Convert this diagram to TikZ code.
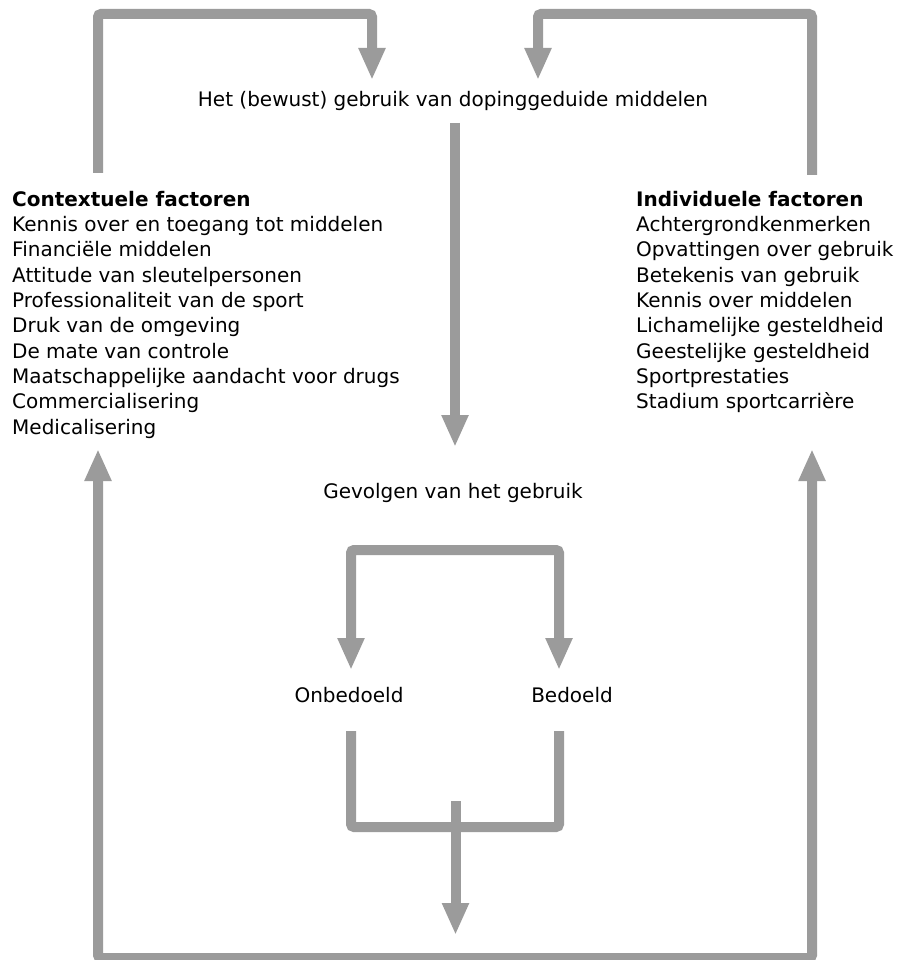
\documentclass[tikz,border=0pt]{standalone}
\usepackage{fontspec}
\setmainfont{DejaVu Sans}
\usetikzlibrary{arrows.meta}
\definecolor{linegray}{RGB}{155,155,155}

\begin{document}
\begin{tikzpicture}[x=1pt,y=-1pt,>={Triangle[width=25pt,length=32pt]},
  conn/.style={draw=linegray,line width=10pt,rounded corners=3pt,fill=none},
  label/.style={inner sep=0pt,font=\fontsize{20}{25.3}\selectfont},
  block/.style={label,align=left,anchor=north west}]
\useasboundingbox (0,0) rectangle (901,960);
%%
\node (node_use) at (453,107) [label,anchor=base] {Het (bewust) gebruik van dopinggeduide middelen};
  \node (node_ctx) at (12,191) [block] {\textbf{Contextuele factoren}\\
    Kennis over en toegang tot middelen\\ Financiële middelen\\
    Attitude van sleutelpersonen\\ Professionaliteit van de sport\\
    Druk van de omgeving\\ De mate van controle\\
    Maatschappelijke aandacht voor drugs\\ Commercialisering\\ Medicalisering};
  \node (node_ind) at (636,191) [block] {\textbf{Individuele factoren}\\
    Achtergrondkenmerken\\ Opvattingen over gebruik\\ Betekenis van gebruik\\
    Kennis over middelen\\ Lichamelijke gesteldheid\\ Geestelijke gesteldheid\\
    Sportprestaties\\ Stadium sportcarrière};
  \node (node_cons) at (453,498) [label,anchor=base] {Gevolgen van het gebruik};
  \node (node_unint) at (349,702) [label,anchor=base] {Onbedoeld};
  \node (node_int) at (572,702) [label,anchor=base] {Bedoeld};
%
\coordinate (ctx_top) at (98,173);
  \coordinate (ind_top) at (812,175);
  \coordinate (use_in_l) at (372,80);
  \coordinate (use_in_r) at (538,80);
  \coordinate (use_out) at (455,123);
  \coordinate (cons_in) at (455,447);
  \coordinate (ctx_in) at (98,449);
  \coordinate (ind_in) at (812,449);
  \coordinate (unint_in) at (351,670);
  \coordinate (int_in) at (559,670);
  \coordinate (unint_out) at (351,731);
  \coordinate (int_out) at (559,731);
  \coordinate (join) at (455.5,801);
  \coordinate (back) at (455.5,935);
%
\draw [conn,->] (ctx_top) -- (98,14) -- (372,14) -- (use_in_l);
  \draw [conn,->] (ind_top) -- (812,14) -- (538,14) -- (use_in_r);
  \draw [conn,->] (use_out) -- (cons_in);
  \draw [conn,<->] (unint_in) -- (351,550) -- (559,550) -- (int_in);
  \draw [conn] (unint_out) -- (351,827) -- (559,827) -- (int_out);
  \draw [conn,->] (join) -- (back);
  \draw [conn,<->] (ctx_in) -- (98,958) -- (812,958) -- (ind_in);
%
\end{tikzpicture}
\end{document}
